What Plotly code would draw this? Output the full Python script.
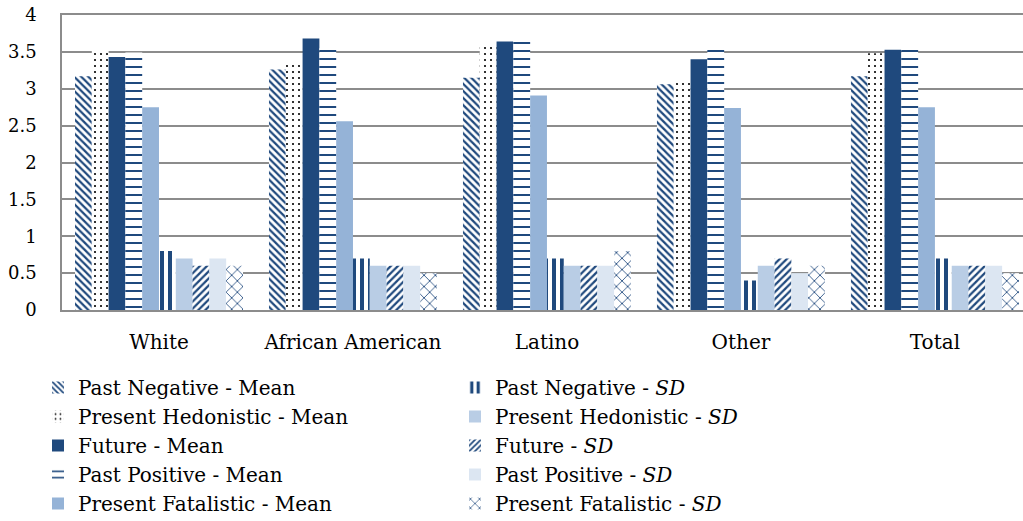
import plotly.graph_objects as go

categories = ["White", "African American", "Latino", "Other", "Total"]

pn_mean = [3.17, 3.26, 3.15, 3.06, 3.17]
ph_mean = [3.53, 3.34, 3.59, 3.11, 3.48]
fut_mean = [3.43, 3.68, 3.64, 3.40, 3.53]
pp_mean = [3.49, 3.55, 3.70, 3.58, 3.58]
pf_mean = [2.75, 2.56, 2.91, 2.74, 2.75]

pn_sd = [0.8, 0.7, 0.7, 0.4, 0.7]
ph_sd = [0.7, 0.6, 0.6, 0.6, 0.6]
fut_sd = [0.6, 0.6, 0.6, 0.7, 0.6]
pp_sd = [0.7, 0.6, 0.6, 0.5, 0.6]
pf_sd = [0.6, 0.5, 0.8, 0.6, 0.5]

y_ticks = [0, 0.5, 1, 1.5, 2, 2.5, 3, 3.5, 4]
y_tick_labels = ["0", "0.5", "1", "1.5", "2", "2.5", "3", "3.5", "4"]

DARK = "#1F497D"
MID = "#95B3D7"
LIGHT = "#B9CDE5"
PALE = "#DCE6F2"
FONT = "DejaVu Serif"


def pat(shape, fg, size, solidity):
    return dict(shape=shape, fgcolor=fg, bgcolor="white", size=size,
                solidity=solidity, fgopacity=1, fillmode="replace")


series = [
    ("Past Negative - Mean", pn_mean, dict(color=DARK, pattern=pat("\\", DARK, 5, 0.45)), "legend"),
    ("Present Hedonistic - Mean", ph_mean, dict(color="black", pattern=pat(".", "black", 6, 0.1)), "legend"),
    ("Future - Mean", fut_mean, dict(color=DARK), "legend"),
    ("Past Positive - Mean", pp_mean, dict(color=DARK, pattern=pat("-", DARK, 8, 0.25)), "legend"),
    ("Present Fatalistic - Mean", pf_mean, dict(color=MID), "legend"),
    ("Past Negative - <i>SD</i>", pn_sd, dict(color=DARK, pattern=pat("|", DARK, 8, 0.5)), "legend2"),
    ("Present Hedonistic - <i>SD</i>", ph_sd, dict(color=LIGHT), "legend2"),
    ("Future - <i>SD</i>", fut_sd, dict(color=DARK, pattern=pat("/", DARK, 5, 0.45)), "legend2"),
    ("Past Positive - <i>SD</i>", pp_sd, dict(color=PALE), "legend2"),
    ("Present Fatalistic - <i>SD</i>", pf_sd, dict(color=DARK, pattern=pat("x", DARK, 8, 0.2)), "legend2"),
]

fig = go.Figure()
for i, (name, vals, marker, leg) in enumerate(series):
    marker = dict(marker)
    marker["line"] = dict(width=0)
    fig.add_trace(go.Bar(
        x=categories, y=vals, name=name, marker=marker,
        legend=leg, legendgroup="g%d" % i,
    ))

W, H = 1023, 521

fig.update_layout(
    width=W, height=H,
    margin=dict(l=62, r=0, t=15, b=211, autoexpand=False),
    plot_bgcolor="white", paper_bgcolor="white",
    barmode="group", bargap=0.134, bargroupgap=0,
    font=dict(family=FONT, size=20, color="black"),
    xaxis=dict(
        range=[-0.5, 4.454], showgrid=False, showline=True, mirror=True,
        linecolor="#8C8C8C", linewidth=2, ticks="", tickangle=0,
        tickfont=dict(family=FONT, size=20), ticklabelstandoff=13,
    ),
    yaxis=dict(
        range=[0, 4], tickvals=y_ticks, ticktext=y_tick_labels,
        showgrid=True, gridcolor="#8C8C8C", gridwidth=1.5,
        showline=True, linecolor="#8C8C8C", linewidth=1.5,
        zeroline=False, ticks="", tickfont=dict(family=FONT, size=18),
        ticklabelstandoff=20,
    ),
    legend=dict(
        x=38 / W, y=1 - 368 / H, xref="container", yref="container",
        xanchor="left", yanchor="top", traceorder="grouped",
        tracegroupgap=0, font=dict(family=FONT, size=20),
        bgcolor="rgba(0,0,0,0)",
    ),
    legend2=dict(
        x=455 / W, y=1 - 368 / H, xref="container", yref="container",
        xanchor="left", yanchor="top", traceorder="grouped",
        tracegroupgap=0, font=dict(family=FONT, size=20),
        bgcolor="rgba(0,0,0,0)",
    ),
)

fig.write_html(
    "out.html",
    config={"displayModeBar": False},
    post_script="document.body.style.margin='0px';",
)
